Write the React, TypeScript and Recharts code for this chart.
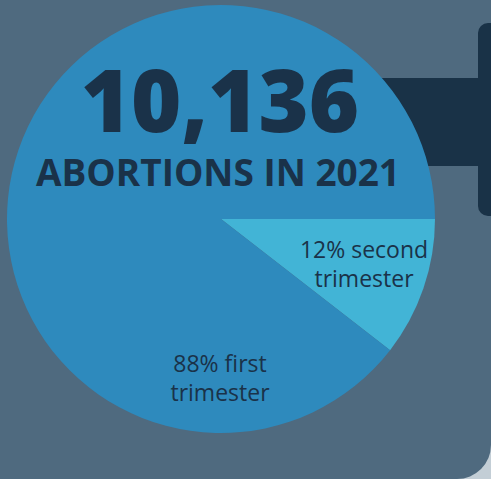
import { PieChart, Pie, Cell } from "recharts"

// slice shares as drawn (arc sizes)
const trimesters = ["second", "first"]
const shares = [10.5, 89.5]
const sliceColors = ["#42b4d6", "#2e8abd"]
const labelLines = [
  ["12% second", "trimester"],
  ["88% first", "trimester"],
]
const totalText = "10,136"
const subtitle = "ABORTIONS IN 2021"

const W = 491
const H = 479
const CX = 221
const CY = 219
const R = 214
const INK = "#1a3249"

// label block anchor (x, first baseline) per slice
const labelPos = [
  { x: 364, y: 258 },
  { x: 220, y: 372 },
]

export default function App() {
  const data = trimesters.map((t, i) => ({ name: t, value: shares[i] }))

  return (
    <div style={{ position: "fixed", left: 0, top: 0, width: W, height: H, background: "#c3ced6" }}>
      <div
        style={{
          position: "absolute",
          inset: 0,
          background: "#4f6a7f",
          borderBottomRightRadius: 34,
          overflow: "hidden",
        }}
      >
        <div style={{ position: "absolute", left: 300, top: 78, width: 190, height: 88, background: "#193247" }} />
        <div
          style={{ position: "absolute", left: 478, top: 23, width: 40, height: 193, background: "#193247", borderRadius: 10 }}
        />
      </div>
      <div style={{ position: "absolute", left: 0, top: 0 }}>
        <PieChart width={W} height={H} margin={{ top: 0, right: 0, bottom: 0, left: 0 }}>
          <Pie
            data={data}
            dataKey="value"
            cx={CX}
            cy={CY}
            outerRadius={R}
            startAngle={0}
            endAngle={-360}
            stroke="none"
            isAnimationActive={false}
          >
            {data.map((d, i) => (
              <Cell key={d.name} fill={sliceColors[i]} />
            ))}
          </Pie>
        </PieChart>
      </div>
      <svg width={W} height={H} style={{ position: "absolute", left: 0, top: 0, pointerEvents: "none" }}>
        <text x={220} y={132} textAnchor="middle" fill={INK} fontFamily="Open Sans" fontWeight={800} fontSize={86}>
          {totalText}
        </text>
        <text x={218} y={186} textAnchor="middle" fill={INK} fontFamily="Open Sans" fontWeight={700} fontSize={37}>
          {subtitle}
        </text>
        {labelLines.map((lines, i) =>
          lines.map((line, j) => (
            <text
              key={`${i}-${j}`}
              x={labelPos[i].x}
              y={labelPos[i].y + j * 29}
              textAnchor="middle"
              fill={INK}
              fontFamily="Open Sans"
              fontSize={23}
            >
              {line}
            </text>
          ))
        )}
      </svg>
    </div>
  )
}
